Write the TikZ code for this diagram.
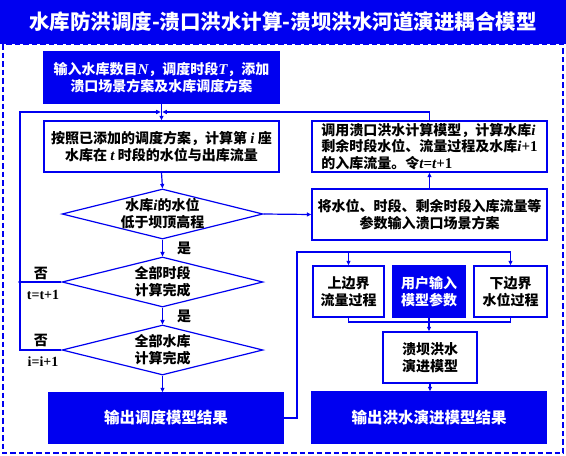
\documentclass[tikz,border=0pt]{standalone}
\usepackage{fontspec}
\setmainfont{Liberation Serif}
\newfontfamily\cjk{Noto Sans CJK SC}
\newfontfamily\tnr{Liberation Serif}
\usetikzlibrary{shapes.geometric,arrows.meta}
\definecolor{bl}{RGB}{0,0,240}
\newcommand\myv[1]{{\tnr\bfseries\itshape\fontsize{15}{16}\selectfont #1}}
\newcommand\myn[1]{{\tnr\bfseries\fontsize{15}{16}\selectfont #1}}
\tikzset{
  ln/.style={draw=bl, line width=1.2pt},
  arr/.style={ln, -{Triangle[length=4.5pt,width=4pt]}},
  boxw/.style={draw=bl, line width=1.4pt, fill=white, inner sep=0pt, align=center,
    font=\cjk\bfseries\fontsize{14}{16.5}\selectfont, text=black},
  boxb/.style={boxw, fill=bl, text=white},
  dia/.style={diamond, draw=bl, line width=1.2pt, fill=white, inner sep=0pt,
    minimum width=201pt, minimum height=50pt},
  dtext/.style={align=center, inner sep=0pt, font=\cjk\bfseries\fontsize{14}{17}\selectfont},
  lab/.style={inner sep=0pt, font=\cjk\bfseries\fontsize{14}{16}\selectfont},
  tlab/.style={inner sep=0pt, font=\tnr\bfseries\fontsize{14}{16}\selectfont},
}
\begin{document}
\begin{tikzpicture}[x=1pt,y=-1pt]
\useasboundingbox (0,0) rectangle (566,456);
\fill[white] (0,0) rectangle (566,456);
\draw[bl, line width=2pt, dash pattern=on 5.5pt off 3pt] (3,44) rectangle (563,453);
\node[fill=bl, minimum width=566pt, minimum height=44pt, inner sep=0pt, text=white,
  font=\cjk\bfseries\fontsize{20.5}{24}\selectfont] (title) at (283,22)
  {水库防洪调度-溃口洪水计算-溃坝洪水河道演进耦合模型};

\node[boxb, minimum width=235pt, minimum height=51pt] (inp) at (161.5,77.5)
  {输入水库数目\myv{N}，调度时段\myv{T}，添加\\溃口场景方案及水库调度方案};
\node[boxw, minimum width=235pt, minimum height=51pt] (calc) at (161.5,146.5)
  {按照已添加的调度方案，计算第 \myv{i} 座\\水库在 \myv{t} 时段的水位与出库流量};
\node[dia, label={[dtext]center:{水库\myv{i}的水位\\低于坝顶高程}}] (d1) at (162.5,214) {};
\node[dia, label={[dtext]center:{全部时段\\计算完成}}] (d2) at (162.5,282) {};
\node[dia, label={[dtext]center:{全部水库\\计算完成}}] (d3) at (162.5,350) {};
\node[boxb, minimum width=234pt, minimum height=50pt, font=\cjk\bfseries\fontsize{15.5}{18}\selectfont] (out1) at (166,418) {输出调度模型结果};

\node[boxw, minimum width=235pt, minimum height=51pt, align=left] (call) at (429.5,146.5)
  {调用溃口洪水计算模型，计算水库\myv{i}\\剩余时段水位、流量过程及水库\myv{i}\myn{+1}\\的入库流量。令\myv{t}\myn{=}\myv{t}\myn{+1}};
\node[boxw, minimum width=235pt, minimum height=51pt] (scen) at (429.5,214.5)
  {将水位、时段、剩余时段入库流量等\\参数输入溃口场景方案};
\node[boxw, minimum width=71pt, minimum height=51pt] (up) at (348.5,291.5) {上边界\\流量过程};
\node[boxb, minimum width=72pt, minimum height=51pt] (usr) at (429,291.5) {用户输入\\模型参数};
\node[boxw, minimum width=73pt, minimum height=51pt] (low) at (510.5,291.5) {下边界\\水位过程};
\node[boxw, minimum width=94pt, minimum height=51pt] (dam) at (430,357.5) {溃坝洪水\\演进模型};
\node[boxb, minimum width=234pt, minimum height=51pt, font=\cjk\bfseries\fontsize{15.5}{18}\selectfont] (out2) at (429,417.5) {输出洪水演进模型结果};

\coordinate (m) at (161.5,112);
\coordinate (Ltop) at (20,112);
\coordinate (L2) at (20,282);
\coordinate (L3) at (20,350);
\coordinate (Rtop) at (429.5,112);
\coordinate (B1) at (297,252);
\coordinate (B2) at (429,322);

\draw[arr] (inp.south) -- (calc.north);
\draw[arr, shorten >=0.8pt] (d3.west) -- (L3) -- (Ltop) -- (m);
\draw[arr, shorten >=0.8pt] (call.north) -- (Rtop) -- (m);
\draw[ln] (d2.west) -- (L2);
\fill[bl] (L2) circle (1.8pt);
\draw[arr] (calc.south) -- (d1.north);
\draw[arr] (d1.south) -- node[lab, anchor=west, xshift=14pt]{是} (d2.north);
\draw[arr] (d2.south) -- node[lab, anchor=west, xshift=14pt]{是} (d3.north);
\draw[arr] (d3.south) -- (d3.south |- out1.north);
\draw[arr] (d1.east) -- (scen.west);
\draw[arr] (scen.north) -- (call.south);
\draw[arr] (out1.east) -- (out1.east -| B1) -- (B1) -| (low.north);
\draw[arr] (up.north |- B1) -- (up.north);
\draw[ln] (up.south) -- (up.south |- B2) -- (low.south |- B2) -- (low.south);
\draw[arr] (usr.south) -- (usr.south |- dam.north);
\draw[arr] (dam.south) -- (dam.south |- out2.north);

\node[lab] (n1) at (41,273) {否};
\node[tlab] (t1) at (43,295) {t=t+1};
\node[lab] (n2) at (41,340) {否};
\node[tlab] (t2) at (43,362) {i=i+1};
\end{tikzpicture}
\end{document}
